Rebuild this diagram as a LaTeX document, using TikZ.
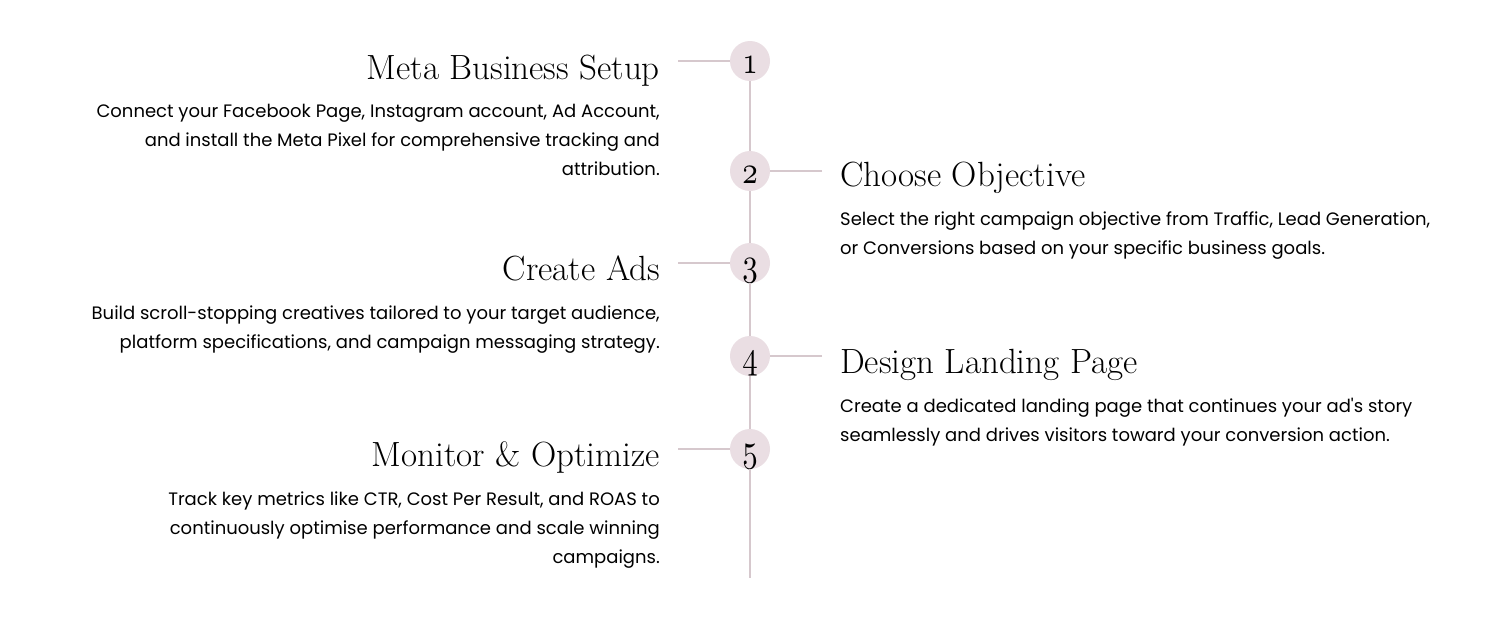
\documentclass[tikz,border=0pt]{standalone}
\usepackage{fontspec}
\newfontfamily\poppins{Poppins}
\usetikzlibrary{positioning}
\definecolor{dotfill}{RGB}{234,222,227}
\definecolor{railpink}{RGB}{214,200,205}
\newcommand{\dotnum}[1]{\scalebox{3.1}[3.9]{\fontencoding{OML}\fontfamily{cmm}\fontseries{m}\fontshape{it}\fontsize{10}{10}\selectfont #1}}
\tikzset{
    stepdot/.style={
      circle,
      fill=dotfill,
      minimum size=40pt,
      inner sep=0pt,
      text height=24pt,
      text depth=0pt},
    rail/.style={draw=railpink, line width=2pt},
    steptitle/.style={
      inner sep=0pt,
      text depth=0pt,
      font=\fontsize{35}{35}\selectfont},
    stepbody/.style={
      inner sep=0pt,
      font=\poppins\fontsize{18}{29}\selectfont},
}
\begin{document}
\begin{tikzpicture}[x=1pt,y=1pt]
    \useasboundingbox[fill=white] (0,0) rectangle (1500,-637);
    % timeline dots
    \node[stepdot] (dot1) at (750,-61)  {\dotnum{1}};
    \node[stepdot] (dot2) at (750,-171) {\dotnum{2}};
    \node[stepdot] (dot3) at (750,-263) {\dotnum{3}};
    \node[stepdot] (dot4) at (750,-356) {\dotnum{4}};
    \node[stepdot] (dot5) at (750,-449) {\dotnum{5}};
    \coordinate (railEnd) at (750,-578);
    \draw[rail] (dot1) -- (dot2);
    \draw[rail] (dot2) -- (dot3);
    \draw[rail] (dot3) -- (dot4);
    \draw[rail] (dot4) -- (dot5);
    \draw[rail] (dot5) -- (railEnd);
    % ticks
    \coordinate (tick1) at (678,-61);
    \coordinate (tick2) at (822,-171);
    \coordinate (tick3) at (678,-263);
    \coordinate (tick4) at (822,-356);
    \coordinate (tick5) at (678,-449);
    \foreach \i in {1,...,5}
        \draw[rail] (tick\i) -- (dot\i);
    % left column
    \node[steptitle, anchor=base east] (meta) at (660,-79) {Meta Business Setup};
    \node[stepbody, align=right, below left=25pt and 0pt of meta.south east] (metaTxt)
        {Connect your Facebook Page, Instagram account, Ad Account,\\
         and install the Meta Pixel for comprehensive tracking and\\
         attribution.};
    \node[steptitle, anchor=base east] (ads) at (660,-280) {Create Ads};
    \node[stepbody, align=right, below left=25pt and 0pt of ads.south east] (adsTxt)
        {Build scroll-stopping creatives tailored to your target audience,\\
         platform specifications, and campaign messaging strategy.};
    \node[steptitle, anchor=base east] (monitor) at (660,-466) {Monitor \& Optimize};
    \node[stepbody, align=right, below left=25pt and 0pt of monitor.south east] (monitorTxt)
        {Track key metrics like CTR, Cost Per Result, and ROAS to\\
         continuously optimise performance and scale winning\\
         campaigns.};
    % right column
    \node[steptitle, anchor=base west] (objective) at (840,-186) {Choose Objective};
    \node[stepbody, align=left, below right=25pt and 0pt of objective.south west] (objectiveTxt)
        {Select the right campaign objective from Traffic, Lead Generation,\\
         or Conversions based on your specific business goals.};
    \node[steptitle, anchor=base west] (landing) at (840,-373) {Design Landing Page};
    \node[stepbody, align=left, below right=25pt and 0pt of landing.south west] (landingTxt)
        {Create a dedicated landing page that continues your ad's story\\
         seamlessly and drives visitors toward your conversion action.};
\end{tikzpicture}
\end{document}
